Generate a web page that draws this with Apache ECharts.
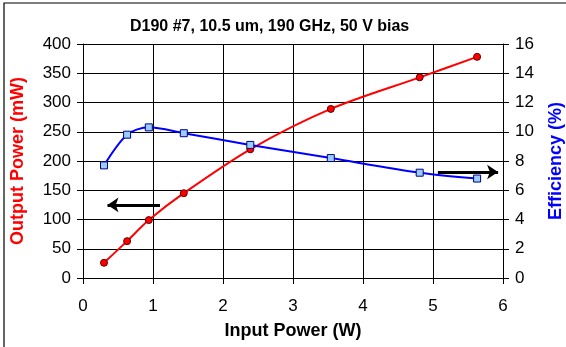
<!DOCTYPE html>
<html><head><meta charset="utf-8">
<script src="https://cdn.jsdelivr.net/npm/echarts@6/dist/echarts.min.js"></script>
<style>html,body{margin:0;padding:0;background:#fff}#c{width:566px;height:347px}</style>
</head><body><div id="c"></div>
<script>
var inputPower = [0.30, 0.63, 0.94, 1.44, 2.39, 3.54, 4.81, 5.63];
var outputPower = [26, 63, 99, 145, 220, 289, 343, 378];
var efficiency = [7.7, 9.8, 10.3, 9.9, 9.1, 8.2, 7.2, 6.8];
var leftArrow = [[1.10, 125], [0.35, 125]];
var rightArrow = [[5.07, 7.25], [5.93, 7.25]];
var titleText = 'D190 #7, 10.5 um, 190 GHz, 50 V bias';

var chart = echarts.init(document.getElementById('c'), null, {renderer: 'canvas'});
var font = 'Liberation Sans, Arial, sans-serif';
function pairs(xs, ys){ return xs.map(function(x,i){return [x, ys[i]];}); }
chart.setOption({
  animation: false,
  backgroundColor: '#fff',
  textStyle: {fontFamily: font},
  title: {text: titleText, left: 125, top: 14,
    textStyle: {fontFamily: font, fontSize: 16, fontWeight: 'bold', color: '#000'}},
  graphic: [{type: 'rect', shape: {x: 4, y: 3, width: 600, height: 400},
    style: {fill: 'none', stroke: '#000', lineWidth: 1.2}, silent: true}],
  grid: {left: 83, right: 63, top: 44, bottom: 69, containLabel: false, outerBoundsMode: 'none'},
  xAxis: {type: 'value', min: 0, max: 6, interval: 1,
    name: 'Input Power (W)', nameLocation: 'middle', nameGap: 44,
    nameTextStyle: {fontFamily: font, fontSize: 18, fontWeight: 'bold', color: '#000'},
    axisLine: {lineStyle: {color: '#000', width: 1}},
    axisTick: {inside: false, length: 6, lineStyle: {color: '#000'}},
    axisLabel: {fontFamily: font, fontSize: 17, color: '#000', margin: 20},
    splitLine: {show: true, lineStyle: {color: '#000', width: 1}}},
  yAxis: [
    {type: 'value', min: 0, max: 400, interval: 50,
      name: 'Output Power (mW)', nameLocation: 'middle', nameGap: 56, nameRotate: 90,
      nameTextStyle: {fontFamily: font, fontSize: 18, fontWeight: 'bold', color: '#ff0000'},
      axisLine: {show: true, lineStyle: {color: '#000'}},
      axisTick: {show: true, length: 6, lineStyle: {color: '#000'}},
      axisLabel: {fontFamily: font, fontSize: 17, color: '#000', margin: 12},
      splitLine: {show: true, lineStyle: {color: '#000', width: 1}}},
    {type: 'value', min: 0, max: 16, interval: 2, position: 'right',
      name: 'Efficiency (%)', nameLocation: 'middle', nameGap: 44, nameRotate: 90,
      nameTextStyle: {fontFamily: font, fontSize: 18, fontWeight: 'bold', color: '#0000ff'},
      axisLine: {show: true, lineStyle: {color: '#000'}},
      axisTick: {show: true, length: 6, lineStyle: {color: '#000'}},
      axisLabel: {fontFamily: font, fontSize: 17, color: '#000', margin: 12},
      splitLine: {show: false}}
  ],
  series: [
    {type: 'line', yAxisIndex: 0, data: pairs(inputPower, outputPower), smooth: 0.3,
      lineStyle: {color: '#ff0000', width: 2}, symbol: 'circle', symbolSize: 7,
      itemStyle: {color: '#ff0000', borderColor: '#600000', borderWidth: 1}, z: 3,
      markLine: {silent: true, symbol: ['none', 'arrow'], symbolSize: [11, 11], animation: false,
        label: {show: false}, lineStyle: {color: '#000', width: 3, type: 'solid'},
        data: [[{coord: leftArrow[0]}, {coord: leftArrow[1]}]]}},
    {type: 'line', yAxisIndex: 1, data: pairs(inputPower, efficiency), smooth: 0.3,
      lineStyle: {color: '#0000ff', width: 2}, symbol: 'rect', symbolSize: 7,
      itemStyle: {color: '#99ccff', borderColor: '#000080', borderWidth: 1}, z: 4,
      markLine: {silent: true, symbol: ['none', 'arrow'], symbolSize: [11, 11], animation: false,
        label: {show: false}, lineStyle: {color: '#000', width: 3, type: 'solid'},
        data: [[{coord: rightArrow[0]}, {coord: rightArrow[1]}]]}}
  ]
});
</script></body></html>
